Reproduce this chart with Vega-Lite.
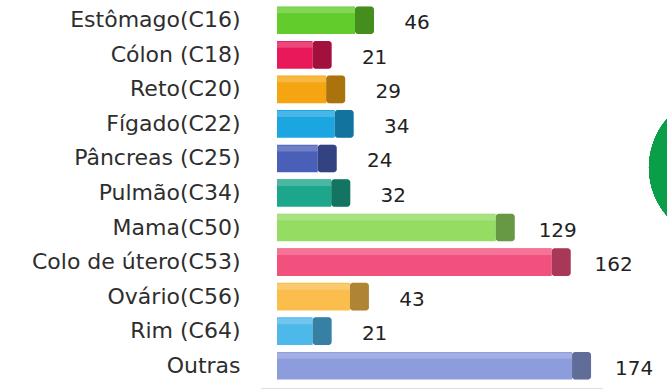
{
  "$schema": "https://vega.github.io/schema/vega-lite/v6.json",
  "width": 390,
  "height": 380,
  "autosize": {"type": "none"},
  "padding": {"left": 277, "top": 3, "right": 0, "bottom": 6},
  "background": "white",
  "config": {"view": {"stroke": null}},
  "data": {
    "values": [
      {"cat": "Estômago(C16)", "v": 46},
      {"cat": "Cólon (C18)", "v": 21},
      {"cat": "Reto(C20)", "v": 29},
      {"cat": "Fígado(C22)", "v": 34},
      {"cat": "Pâncreas (C25)", "v": 24},
      {"cat": "Pulmão(C34)", "v": 32},
      {"cat": "Mama(C50)", "v": 129},
      {"cat": "Colo de útero(C53)", "v": 162},
      {"cat": "Ovário(C56)", "v": 43},
      {"cat": "Rim (C64)", "v": 21},
      {"cat": "Outras", "v": 174}
    ]
  },
  "layer": [
    {
      "mark": {"type": "bar"},
      "encoding": {
        "y": {
          "field": "cat",
          "type": "nominal",
          "sort": null,
          "scale": {"paddingInner": 0.2, "paddingOuter": 0.1},
          "axis": {
            "title": null,
            "ticks": false,
            "domain": false,
            "labelPadding": 37,
            "labelLimit": 300,
            "labelFont": "DejaVu Sans",
            "labelFontSize": 22,
            "labelColor": "#2e2e2e"
          }
        },
        "x": {"field": "v", "type": "quantitative", "scale": {"domain": [0, 230], "nice": false, "zero": false}, "axis": null},
        "color": {
          "field": "cat",
          "type": "nominal",
          "sort": null,
          "legend": null,
          "scale": {
            "domain": ["Estômago(C16)", "Cólon (C18)", "Reto(C20)", "Fígado(C22)", "Pâncreas (C25)", "Pulmão(C34)", "Mama(C50)", "Colo de útero(C53)", "Ovário(C56)", "Rim (C64)", "Outras"],
            "range": ["#62cc2c", "#e8185a", "#f5a512", "#1ba6e2", "#4a5fb8", "#1ca68b", "#94dc62", "#f2517e", "#fbbd4c", "#4db8ea", "#8c9cdc"]
          }
        }
      }
    },
    {
      "mark": {"type": "rect", "x2Offset": 19, "cornerRadius": 3},
      "encoding": {
        "y": {"field": "cat", "type": "nominal", "sort": null},
        "x": {"field": "v", "type": "quantitative", "scale": {"domain": [0, 230], "nice": false, "zero": false}},
        "x2": {"field": "v"},
        "color": {"field": "cat", "type": "nominal", "sort": null, "legend": null}
      }
    },
    {
      "mark": {"type": "rect", "color": "black", "opacity": 0.3, "x2Offset": 19, "cornerRadius": 3},
      "encoding": {
        "y": {"field": "cat", "type": "nominal", "sort": null},
        "x": {"field": "v", "type": "quantitative", "scale": {"domain": [0, 230], "nice": false, "zero": false}},
        "x2": {"field": "v"}
      }
    },
    {
      "mark": {"type": "bar", "color": "white", "opacity": 0.2, "height": 6, "yOffset": -10},
      "encoding": {
        "y": {"field": "cat", "type": "nominal", "sort": null},
        "x": {"field": "v", "type": "quantitative", "scale": {"domain": [0, 230], "nice": false, "zero": false}}
      }
    },
    {
      "mark": {"type": "text", "align": "center", "baseline": "middle", "dx": 62, "dy": 3, "font": "DejaVu Sans", "fontSize": 20, "color": "#222222"},
      "encoding": {
        "y": {"field": "cat", "type": "nominal", "sort": null},
        "x": {"field": "v", "type": "quantitative", "scale": {"domain": [0, 230], "nice": false, "zero": false}},
        "text": {"field": "v", "type": "quantitative"}
      }
    },
    {
      "mark": {"type": "rule", "color": "#dddddd", "strokeWidth": 1.5, "yOffset": 23},
      "encoding": {
        "x": {"datum": -9, "type": "quantitative", "scale": {"domain": [0, 230], "nice": false, "zero": false}},
        "x2": {"datum": 192},
        "y": {"datum": "Outras", "type": "nominal"}
      }
    },
    {
      "mark": {"type": "point", "filled": true, "shape": "circle", "color": "#0b9e48", "opacity": 1, "size": 21900, "yOffset": 9},
      "encoding": {
        "x": {"datum": 263, "type": "quantitative", "scale": {"domain": [0, 230], "nice": false, "zero": false}},
        "y": {"datum": "Pâncreas (C25)", "type": "nominal"}
      }
    }
  ]
}
